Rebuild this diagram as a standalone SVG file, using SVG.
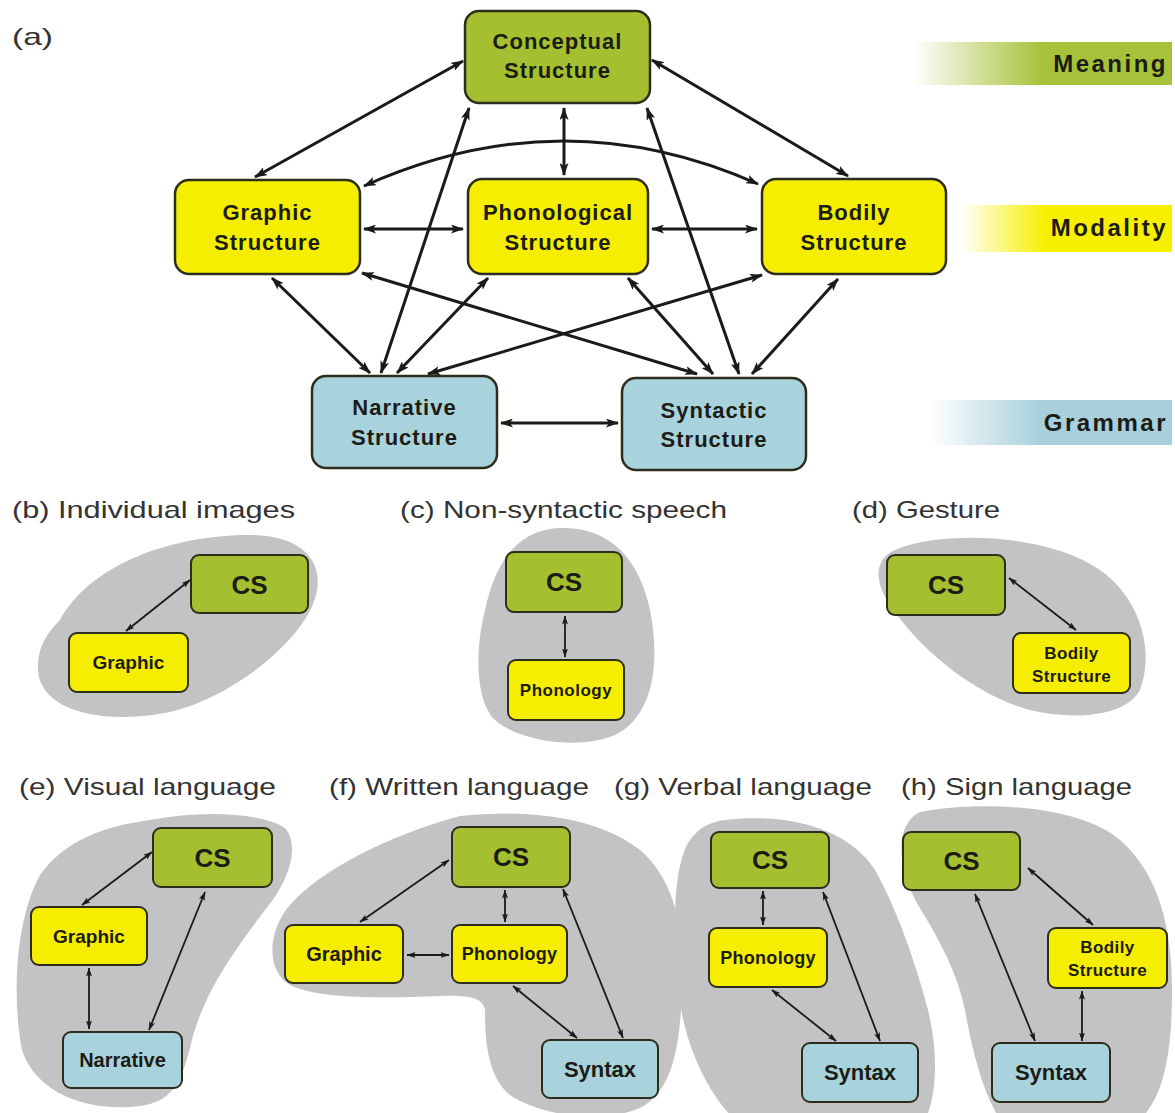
<svg xmlns="http://www.w3.org/2000/svg" width="1175" height="1113" viewBox="0 0 1175 1113">
<defs>
<marker id="ah" viewBox="0 0 13 9" refX="12" refY="4.5" markerWidth="13" markerHeight="9" markerUnits="userSpaceOnUse" orient="auto-start-reverse"><path d="M0,0 L13,4.5 L0,9 L3,4.5 Z" fill="#1a1a1a"/></marker>
<marker id="as" viewBox="0 0 9 6" refX="8.5" refY="3" markerWidth="9" markerHeight="6" markerUnits="userSpaceOnUse" orient="auto-start-reverse"><path d="M0,0 L9,3 L0,6 L2,3 Z" fill="#1a1a1a"/></marker>
<linearGradient id="gM" x1="0" y1="0" x2="1" y2="0"><stop offset="0" stop-color="#a6c23a" stop-opacity="0"/><stop offset="0.5" stop-color="#a6c23a" stop-opacity="1"/><stop offset="1" stop-color="#a6c23a"/></linearGradient>
<linearGradient id="gY" x1="0" y1="0" x2="1" y2="0"><stop offset="0" stop-color="#f6f000" stop-opacity="0"/><stop offset="0.4" stop-color="#f6f000" stop-opacity="1"/><stop offset="1" stop-color="#f6f000"/></linearGradient>
<linearGradient id="gB" x1="0" y1="0" x2="1" y2="0"><stop offset="0" stop-color="#a8d0dc" stop-opacity="0"/><stop offset="0.45" stop-color="#a8d0dc" stop-opacity="1"/><stop offset="1" stop-color="#a8d0dc"/></linearGradient>
</defs>
<style>
.g{fill:#a4c030;stroke:#2d2d1c;stroke-width:2.5}
.y{fill:#f5ee00;stroke:#2d2d1c;stroke-width:2.5}
.b{fill:#a8d3dd;stroke:#2d2d1c;stroke-width:2.5}
.sg{fill:#a4c030;stroke:#2d2d1c;stroke-width:2}
.sy{fill:#f5ee00;stroke:#2d2d1c;stroke-width:2}
.sb{fill:#a8d3dd;stroke:#2d2d1c;stroke-width:2}
.blob{fill:#c3c3c6}
text{font-family:"Liberation Sans",Arial,sans-serif}
.t{font-weight:bold;fill:#1c1c14;text-anchor:middle}
.big{font-size:22px;letter-spacing:1px}
.lab{font-weight:bold;fill:#1c1c14;font-size:24px;letter-spacing:2.5px;text-anchor:end}
.ttl{font-size:24px;fill:#333}
.c{fill:none;stroke:#1a1a1a;stroke-width:3;marker-start:url(#ah);marker-end:url(#ah)}
.s{fill:none;stroke:#1a1a1a;stroke-width:1.8;marker-start:url(#as);marker-end:url(#as)}
</style>
<rect width="1175" height="1113" fill="#ffffff"/>

<!-- level bars -->
<g id="bar-meaning"><rect x="913" y="42" width="259" height="43" fill="url(#gM)"/><text class="lab" x="1168" y="72">Meaning</text></g>
<g id="bar-modality"><rect x="960" y="205" width="212" height="47" fill="url(#gY)"/><text class="lab" x="1168" y="236">Modality</text></g>
<g id="bar-grammar"><rect x="930" y="400" width="242" height="45" fill="url(#gB)"/><text class="lab" x="1168" y="431">Grammar</text></g>

<text class="ttl" x="12" y="45" textLength="41" lengthAdjust="spacingAndGlyphs">(a)</text>

<!-- connectors of (a) -->
<g id="connectors-a">
<line class="c" x1="463" y1="61" x2="255" y2="177"/>
<line class="c" x1="564" y1="108" x2="564" y2="175"/>
<line class="c" x1="652" y1="60" x2="848" y2="176"/>
<path class="c" d="M364,186 Q562,97 758,184"/>
<line class="c" x1="364" y1="229" x2="463" y2="229"/>
<line class="c" x1="652" y1="229" x2="757" y2="229"/>
<line class="c" x1="469" y1="108" x2="381" y2="373"/>
<line class="c" x1="647" y1="108" x2="739" y2="374"/>
<line class="c" x1="272" y1="278" x2="370" y2="373"/>
<line class="c" x1="362" y1="273" x2="697" y2="374"/>
<line class="c" x1="488" y1="278" x2="397" y2="373"/>
<line class="c" x1="628" y1="278" x2="713" y2="374"/>
<line class="c" x1="762" y1="275" x2="428" y2="374"/>
<line class="c" x1="838" y1="279" x2="752" y2="374"/>
<line class="c" x1="501" y1="423" x2="618" y2="423"/>
</g>

<g id="node-conceptual"><rect class="g" x="465" y="11" width="185" height="92" rx="14"/><text class="t big" x="557.5" y="49">Conceptual</text><text class="t big" x="557.5" y="78">Structure</text></g>
<g id="node-graphic"><rect class="y" x="175" y="180" width="185" height="94" rx="14"/><text class="t big" x="267.5" y="220">Graphic</text><text class="t big" x="267.5" y="250">Structure</text></g>
<g id="node-phonological"><rect class="y" x="468" y="179" width="180" height="95" rx="14"/><text class="t big" x="558" y="220">Phonological</text><text class="t big" x="558" y="250">Structure</text></g>
<g id="node-bodily"><rect class="y" x="762" y="179" width="184" height="95" rx="14"/><text class="t big" x="854" y="220">Bodily</text><text class="t big" x="854" y="250">Structure</text></g>
<g id="node-narrative"><rect class="b" x="312" y="376" width="185" height="92" rx="14"/><text class="t big" x="404.5" y="415">Narrative</text><text class="t big" x="404.5" y="445">Structure</text></g>
<g id="node-syntactic"><rect class="b" x="622" y="378" width="184" height="92" rx="14"/><text class="t big" x="714" y="418">Syntactic</text><text class="t big" x="714" y="447">Structure</text></g>

<!-- panel titles -->
<text class="ttl" x="12" y="518" textLength="283" lengthAdjust="spacingAndGlyphs">(b) Individual images</text>
<text class="ttl" x="400" y="518" textLength="327" lengthAdjust="spacingAndGlyphs">(c) Non-syntactic speech</text>
<text class="ttl" x="852" y="518" textLength="148" lengthAdjust="spacingAndGlyphs">(d) Gesture</text>
<text class="ttl" x="19" y="795" textLength="257" lengthAdjust="spacingAndGlyphs">(e) Visual language</text>
<text class="ttl" x="329" y="795" textLength="260" lengthAdjust="spacingAndGlyphs">(f) Written language</text>
<text class="ttl" x="614" y="795" textLength="258" lengthAdjust="spacingAndGlyphs">(g) Verbal language</text>
<text class="ttl" x="901" y="795" textLength="231" lengthAdjust="spacingAndGlyphs">(h) Sign language</text>

<!-- blobs -->
<path class="blob" d="M60,620 C90,565 170,535 250,535 C300,535 325,560 316,595 C305,640 230,700 165,713 C100,725 40,710 38,670 C37,650 45,635 60,620 Z"/>
<path class="blob" d="M560,528 C610,526 640,560 650,610 C660,660 655,715 615,735 C580,750 520,742 495,720 C475,700 475,650 485,610 C495,565 515,530 560,528 Z"/>
<path class="blob" d="M900,548 C950,530 1050,535 1100,570 C1140,598 1155,650 1140,690 C1125,718 1070,720 1030,710 C975,695 920,650 890,605 C872,578 875,556 900,548 Z"/>
<path class="blob" d="M150,820 C200,810 260,812 285,828 C300,845 290,880 265,910 C235,950 205,990 192,1040 C182,1080 175,1105 130,1107 C80,1110 35,1090 22,1050 C12,1000 15,920 40,875 C65,840 105,826 150,820 Z"/>
<path class="blob" d="M460,816 C530,808 600,818 640,850 C675,880 685,930 682,990 C680,1040 675,1090 640,1108 C600,1125 540,1115 510,1095 C485,1075 485,1030 485,1010 C483,998 470,995 440,996 C390,998 320,1000 290,985 C265,970 268,930 290,905 C320,870 390,835 460,816 Z"/>
<path class="blob" d="M725,820 C790,812 850,830 875,870 C895,905 915,960 928,1010 C940,1060 935,1100 925,1120 L735,1120 C705,1090 682,1040 677,980 C672,920 675,860 690,840 C700,826 712,822 725,820 Z"/>
<path class="blob" d="M920,812 C980,800 1080,805 1120,840 C1160,875 1172,930 1172,990 C1172,1050 1165,1095 1140,1120 L1000,1120 C982,1090 972,1050 965,1010 C958,975 940,940 918,905 C898,870 893,825 920,812 Z"/>

<!-- connectors of small panels -->
<g id="connectors-small">
<line class="s" x1="190" y1="580" x2="126" y2="631"/>
<line class="s" x1="565" y1="616" x2="565" y2="657"/>
<line class="s" x1="1009" y1="578" x2="1076" y2="630"/>
<line class="s" x1="152" y1="852" x2="82" y2="905"/>
<line class="s" x1="89" y1="968" x2="89" y2="1029"/>
<line class="s" x1="205" y1="892" x2="149" y2="1030"/>
<line class="s" x1="449" y1="860" x2="360" y2="922"/>
<line class="s" x1="505" y1="890" x2="505" y2="922"/>
<line class="s" x1="407" y1="955" x2="449" y2="955"/>
<line class="s" x1="513" y1="986" x2="577" y2="1038"/>
<line class="s" x1="563" y1="889" x2="623" y2="1038"/>
<line class="s" x1="763" y1="891" x2="763" y2="925"/>
<line class="s" x1="772" y1="990" x2="836" y2="1041"/>
<line class="s" x1="823" y1="892" x2="880" y2="1041"/>
<line class="s" x1="975" y1="894" x2="1035" y2="1041"/>
<line class="s" x1="1028" y1="868" x2="1093" y2="925"/>
<line class="s" x1="1082" y1="991" x2="1082" y2="1041"/>
</g>

<!-- (b) -->
<g id="b-cs"><rect class="sg" x="191" y="555" width="117" height="58" rx="8"/><text class="t" x="249.5" y="594" font-size="26">CS</text></g>
<g id="b-graphic"><rect class="sy" x="69" y="633" width="119" height="59" rx="8"/><text class="t" x="128.5" y="669" font-size="19">Graphic</text></g>
<!-- (c) -->
<g id="c-cs"><rect class="sg" x="506" y="552" width="116" height="60" rx="8"/><text class="t" x="564" y="591" font-size="26">CS</text></g>
<g id="c-phonology"><rect class="sy" x="508" y="660" width="116" height="60" rx="8"/><text class="t" x="566" y="696" font-size="17" letter-spacing="0.5">Phonology</text></g>
<!-- (d) -->
<g id="d-cs"><rect class="sg" x="887" y="555" width="118" height="60" rx="8"/><text class="t" x="946" y="594" font-size="26">CS</text></g>
<g id="d-bodily"><rect class="sy" x="1013" y="633" width="117" height="60" rx="8"/><text class="t" x="1071.5" y="659" font-size="17" letter-spacing="0.4">Bodily</text><text class="t" x="1071.5" y="682" font-size="17" letter-spacing="0.4">Structure</text></g>
<!-- (e) -->
<g id="e-cs"><rect class="sg" x="153" y="828" width="119" height="59" rx="8"/><text class="t" x="212.5" y="867" font-size="26">CS</text></g>
<g id="e-graphic"><rect class="sy" x="31" y="907" width="116" height="58" rx="8"/><text class="t" x="89" y="943" font-size="19">Graphic</text></g>
<g id="e-narrative"><rect class="sb" x="63" y="1032" width="119" height="56" rx="8"/><text class="t" x="122.5" y="1067" font-size="20">Narrative</text></g>
<!-- (f) -->
<g id="f-cs"><rect class="sg" x="452" y="827" width="118" height="60" rx="8"/><text class="t" x="511" y="866" font-size="26">CS</text></g>
<g id="f-graphic"><rect class="sy" x="285" y="925" width="118" height="58" rx="8"/><text class="t" x="344" y="961" font-size="20">Graphic</text></g>
<g id="f-phonology"><rect class="sy" x="452" y="925" width="115" height="58" rx="8"/><text class="t" x="509.5" y="960" font-size="18" letter-spacing="0.3">Phonology</text></g>
<g id="f-syntax"><rect class="sb" x="542" y="1040" width="116" height="58" rx="8"/><text class="t" x="600" y="1077" font-size="22">Syntax</text></g>
<!-- (g) -->
<g id="g-cs"><rect class="sg" x="711" y="832" width="118" height="56" rx="8"/><text class="t" x="770" y="869" font-size="26">CS</text></g>
<g id="g-phonology"><rect class="sy" x="709" y="928" width="118" height="59" rx="8"/><text class="t" x="768" y="964" font-size="18" letter-spacing="0.3">Phonology</text></g>
<g id="g-syntax"><rect class="sb" x="802" y="1043" width="116" height="59" rx="8"/><text class="t" x="860" y="1080" font-size="22">Syntax</text></g>
<!-- (h) -->
<g id="h-cs"><rect class="sg" x="903" y="832" width="117" height="58" rx="8"/><text class="t" x="961.5" y="870" font-size="26">CS</text></g>
<g id="h-bodily"><rect class="sy" x="1048" y="928" width="119" height="60" rx="8"/><text class="t" x="1107.5" y="953" font-size="17" letter-spacing="0.4">Bodily</text><text class="t" x="1107.5" y="976" font-size="17" letter-spacing="0.4">Structure</text></g>
<g id="h-syntax"><rect class="sb" x="992" y="1043" width="118" height="59" rx="8"/><text class="t" x="1051" y="1080" font-size="22">Syntax</text></g>
</svg>
